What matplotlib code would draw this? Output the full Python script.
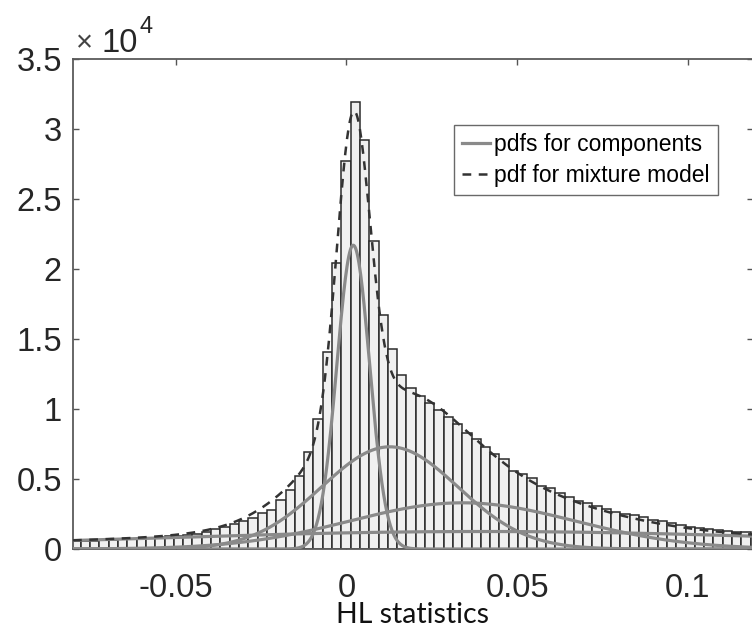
import numpy as np
import matplotlib
matplotlib.use("Agg")
import matplotlib.pyplot as plt
from matplotlib.ticker import FuncFormatter

plt.rcParams["font.family"] = ["Liberation Sans", "DejaVu Sans"]
plt.rcParams["axes.unicode_minus"] = False

# histogram: bin width and left edge of the tallest bin
bin_width = 0.002725
peak_edge = 0.00123
bin_index = list(range(-31, 44))
counts = [
    550, 550, 570, 600, 620, 660, 700, 750, 780, 820,
    880, 900, 950, 1000, 1100, 1200, 1400, 1600, 1800, 2000,
    2200, 2600, 2800, 3500, 4200, 5200, 6900, 9300, 14100, 20450,
    27700, 31900, 29200, 22000, 16700, 14300, 12400, 11500, 10900, 10400,
    9900, 9450, 8900, 8300, 7850, 7300, 6800, 6400, 5600, 5350,
    5100, 4500, 4350, 4000, 3750, 3450, 3300, 3100, 2850, 2650,
    2500, 2430, 2260, 2070, 2000, 1830, 1710, 1600, 1480, 1430,
    1360, 1300, 1240, 1180, 1100,
]

# mixture components (centre, spread, peak height)
comp_mu = [0.002, 0.0127, 0.034, 0.04]
comp_sd = [0.0048, 0.020, 0.033, 0.10]
comp_peak = [21700, 7300, 3300, 1250]

x_lo, x_hi = -0.0801, 0.1191

fig = plt.figure(figsize=(7.52, 6.31), dpi=100)
ax = fig.add_axes([73 / 752, 82 / 631, 680 / 752, 490 / 631])

lefts = [peak_edge + k * bin_width for k in bin_index]
ax.bar(lefts, counts, width=bin_width, align="edge",
       facecolor="#f0f0f0", edgecolor="#2b2b2b", linewidth=1.1, zorder=2)

xs = np.linspace(x_lo, x_hi, 800)
total = np.zeros_like(xs)
for i, (mu, sd, pk) in enumerate(zip(comp_mu, comp_sd, comp_peak)):
    ys = pk * np.exp(-0.5 * ((xs - mu) / sd) ** 2)
    total += ys
    ax.plot(xs, ys, color="#8a8a8a", lw=2.3, zorder=3,
            label="pdfs for components" if i == 0 else None)
ax.plot(xs, total, color="#333333", lw=1.8, linestyle=(0, (3.5, 3)), zorder=4,
        label="pdf for mixture model")

ax.set_xlim(x_lo, x_hi)
ax.set_ylim(0, 35000)
ax.set_xticks([-0.05, 0, 0.05, 0.1])
ax.set_yticks(np.arange(0, 35001, 5000))
ax.xaxis.set_major_formatter(FuncFormatter(lambda v, p: "%g" % round(v, 4)))
ax.yaxis.set_major_formatter(FuncFormatter(lambda v, p: "%g" % (v / 1e4)))
ax.tick_params(direction="in", length=4, width=1, color="#555555",
               labelsize=23.5, labelcolor="#262626", top=True, right=True)
ax.tick_params(axis="x", pad=17)
ax.tick_params(axis="y", pad=8)
for s in ax.spines.values():
    s.set_color("#5a5a5a")
    s.set_linewidth(1.3)

ax.set_xlabel("HL statistics", family=["Lato", "DejaVu Sans"], fontsize=20.5,
              color="#111111", labelpad=-1)

# exponent label above the y axis
fig.text(76 / 752, 1 - 51 / 631, "\u00d7", fontsize=21, color="#444444",
         ha="left", va="baseline")
fig.text(102 / 752, 1 - 52 / 631, "10", fontsize=23.5, color="#262626",
         ha="left", va="baseline")
fig.text(139 / 752, 1 - 33 / 631, "4", fontsize=17, color="#262626",
         ha="left", va="baseline")

leg = ax.legend(loc="upper right", bbox_to_anchor=(0.9485, 0.865),
                fontsize=16.5, frameon=True, fancybox=False, handlelength=1.2,
                handletextpad=0.2, borderpad=0.35, labelspacing=0.35,
                borderaxespad=0)
leg.get_frame().set_edgecolor("#444444")
leg.get_frame().set_linewidth(1.0)

fig.savefig("out.png", dpi=100)
